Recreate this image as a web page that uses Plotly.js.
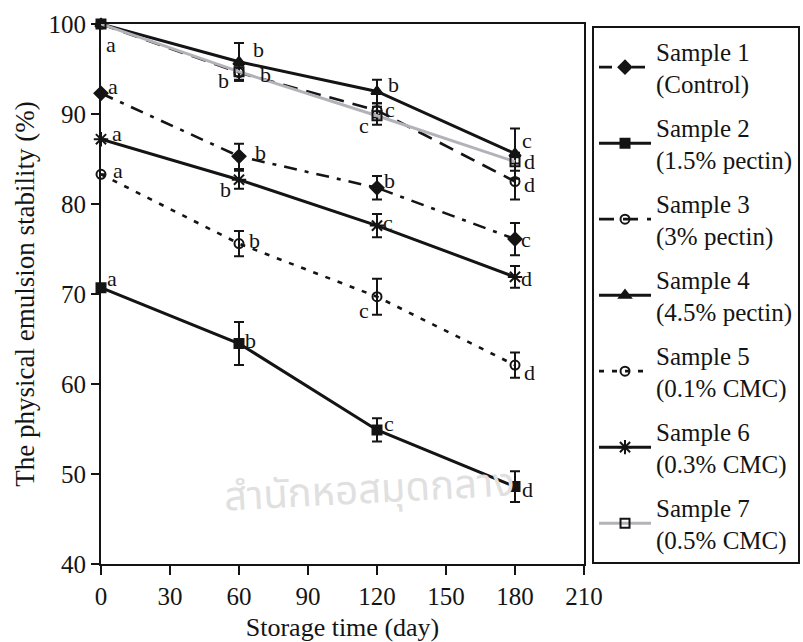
<!DOCTYPE html>
<html>
<head>
<meta charset="utf-8">
<script src="https://cdn.plot.ly/plotly-3.0.1.min.js"></script>
<style>html,body{margin:0;padding:0;background:#fff;}#chart{width:803px;height:642px;}</style>
</head>
<body>
<div id="chart"></div>
<script>
// ---- data ----
const days = [0, 60, 120, 180];
const sampleNames = [
  "Sample 1<br>(Control)",
  "Sample 2<br>(1.5% pectin)",
  "Sample 3<br>(3% pectin)",
  "Sample 4<br>(4.5% pectin)",
  "Sample 5<br>(0.1% CMC)",
  "Sample 6<br>(0.3% CMC)",
  "Sample 7<br>(0.5% CMC)"
];
const s1 = [92.3, 85.3, 81.8, 76.1];
const s2 = [70.7, 64.5, 54.9, 48.6];
const s3 = [100, 94.6, 90.4, 82.5];
const s4 = [100, 95.8, 92.5, 85.6];
const s5 = [83.3, 75.6, 69.7, 62.1];
const s6 = [87.2, 82.7, 77.6, 71.9];
const s7 = [100, 94.7, 89.8, 84.7];
const e1 = [0, 1.4, 1.3, 1.8];
const e2 = [0, 2.4, 1.3, 1.7];
const e3 = [0, 0.8, 0.8, 2.0];
const e4 = [0, 2.1, 1.3, 2.8];
const e5 = [0, 1.4, 2.0, 1.4];
const e6 = [0, 1.0, 1.3, 1.2];
const e7 = [0, 1.0, 1.0, 1.0];
const l1 = ["a", "b", "b", "c"];
const l2 = ["a", "b", "c", "d"];
const l3 = ["", "b", "c", "d"];
const l4 = ["", "b", "b", "c"];
const l5 = ["a", "b", "c", "d"];
const l6 = ["a", "b", "c", "d"];
const l7 = ["a", "b", "c", "d"];
const xTicks = [0, 30, 60, 90, 120, 150, 180, 210];
const yTicks = [40, 50, 60, 70, 80, 90, 100];
const watermark = "สำนักหอสมุดกลาง";

// ---- styles ----
const FONT = "Liberation Serif, Times New Roman, serif";
const INK = "#141414";
const series = [s1, s2, s3, s4, s5, s6, s7];
const errs = [e1, e2, e3, e4, e5, e6, e7];
const letters = [l1, l2, l3, l4, l5, l6, l7];
const styles = [
  {color: INK, dash: "13px,8px,4px,8px", width: 2.6, symbol: "diamond", mcolor: INK, size: 10},
  {color: INK, dash: "solid", width: 3, symbol: "square", mcolor: INK, size: 9},
  {color: INK, dash: "15px,9px", width: 2.6, symbol: "circle-open", mcolor: INK, size: 9},
  {color: INK, dash: "solid", width: 3, symbol: "triangle-up", mcolor: INK, size: 10},
  {color: INK, dash: "5px,8px", width: 2.6, symbol: "circle-open", mcolor: INK, size: 9},
  {color: INK, dash: "solid", width: 3, symbol: "asterisk-open", mcolor: INK, size: 12},
  {color: "#b4b2b8", dash: "solid", width: 3, symbol: "square-open", mcolor: INK, size: 9}
];
// label offsets (px) per series per point
const shifts = [
  [[12, 7], [21, 4], [12, 7], [11, 0]],
  [[11, 9], [11, 3], [12, 6], [12, -3]],
  [[0, 0], [26, -2], [13, 1], [14, -3]],
  [[0, 0], [19, 12], [16, 7], [12, 13]],
  [[17, 4], [15, 3], [-13, -14], [14, -7]],
  [[16, 6], [-14, -10], [11, 3], [11, -2]],
  [[10, -20], [-16, -9], [-13, -10], [14, 0]]
];

const traces = series.map((ys, i) => ({
  x: days,
  y: ys,
  name: sampleNames[i],
  type: "scatter",
  mode: "lines+markers",
  legendgroup: "g" + i,
  line: {color: styles[i].color, width: styles[i].width, dash: styles[i].dash},
  marker: {symbol: styles[i].symbol, size: styles[i].size, color: styles[i].mcolor,
           line: {color: INK, width: 2}},
  error_y: {type: "data", array: errs[i], visible: true, color: INK, thickness: 2, width: 5},
  cliponaxis: false
}));

const annotations = [];
series.forEach((ys, i) => {
  ys.forEach((v, j) => {
    if (!letters[i][j]) return;
    annotations.push({
      x: days[j], y: v, xref: "x", yref: "y",
      text: letters[i][j], showarrow: false,
      xshift: shifts[i][j][0], yshift: shifts[i][j][1],
      font: {family: FONT, size: 22, color: INK}
    });
  });
});
annotations.push({
  x: 0.555, y: 0.135, xref: "paper", yref: "paper", showarrow: false,
  yanchor: "middle", xanchor: "center",
  text: watermark, textangle: -3,
  font: {family: "Noto Sans Thai, Noto Sans, DejaVu Sans, sans-serif", size: 40, color: "#e0e0e0"}
});

const layout = {
  width: 803, height: 642,
  margin: {l: 101, r: 219, t: 24, b: 78, autoexpand: false},
  paper_bgcolor: "#fff", plot_bgcolor: "#fff",
  font: {family: FONT, color: INK},
  showlegend: true,
  legend: {
    x: 1.0166, xanchor: "left", y: 0.996, yanchor: "top",
    bordercolor: INK, borderwidth: 2, maxheight: 620,
    font: {family: FONT, size: 25, color: INK},
    tracegroupgap: 8, traceorder: "grouped", itemwidth: 52
  },
  xaxis: {
    range: [0, 210], tickvals: xTicks, ticktext: xTicks.map(String),
    showgrid: false, zeroline: false,
    showline: true, linecolor: INK, linewidth: 2, mirror: true,
    ticks: "outside", ticklen: 9, tickwidth: 2, tickcolor: INK,
    tickfont: {family: FONT, size: 25, color: INK},
    title: {text: "Storage time (day)", font: {family: FONT, size: 26, color: INK}, standoff: 9}
  },
  yaxis: {
    range: [40, 100], tickvals: yTicks, ticktext: yTicks.map(String),
    showgrid: false, zeroline: false,
    showline: true, linecolor: INK, linewidth: 2, mirror: true,
    ticks: "outside", ticklen: 8, tickwidth: 2, tickcolor: INK,
    tickfont: {family: FONT, size: 25, color: INK},
    title: {text: "The physical emulsion stability (%)", font: {family: FONT, size: 27, color: INK}, standoff: 6}
  },
  annotations: annotations
};

Plotly.newPlot("chart", traces, layout, {staticPlot: true, displayModeBar: false});
</script>
</body>
</html>
